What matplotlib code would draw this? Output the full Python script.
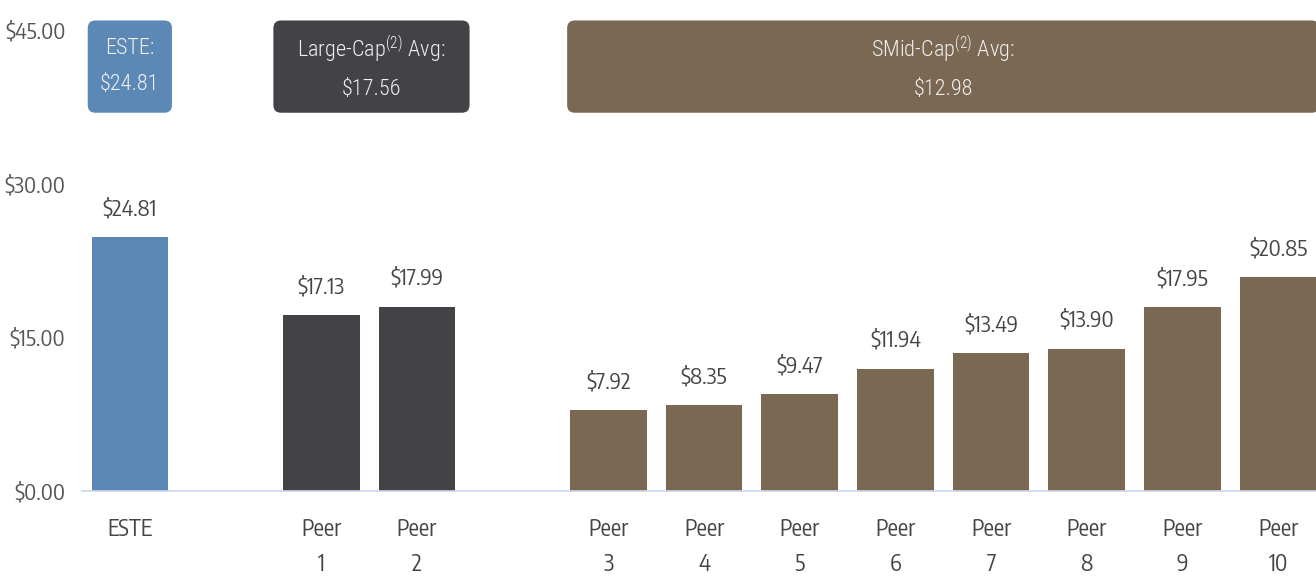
import matplotlib
matplotlib.use("Agg")
import matplotlib.pyplot as plt
from matplotlib.patches import FancyBboxPatch

plt.rcParams['font.family'] = ['Encode Sans Condensed', 'DejaVu Sans']

# data
labels = ['ESTE', 'Peer\n1', 'Peer\n2', 'Peer\n3', 'Peer\n4', 'Peer\n5', 'Peer\n6',
          'Peer\n7', 'Peer\n8', 'Peer\n9', 'Peer\n10']
values = [24.81, 17.13, 17.99, 7.92, 8.35, 9.47, 11.94, 13.49, 13.90, 17.95, 20.85]
groups = ['este', 'large', 'large', 'smid', 'smid', 'smid', 'smid', 'smid', 'smid', 'smid', 'smid']
slots = [0, 2, 3, 5, 6, 7, 8, 9, 10, 11, 12]
yticks = [0, 15, 30, 45]

group_colors = {'este': '#5b88b5', 'large': '#434347', 'smid': '#7a6852'}
# (x0, x1, group, text) of the summary boxes at the top
boxes = [(-0.44, 0.44, 'este', 'ESTE:\n$24.81'),
         (1.5, 3.55, 'large', r'Large-Cap$\mathregular{^{(2)}}$ Avg:' + '\n$17.56'),
         (4.57, 12.43, 'smid', r'SMid-Cap$\mathregular{^{(2)}}$ Avg:' + '\n$12.98')]

fig = plt.figure(figsize=(13.16, 5.77), dpi=100)
ax = fig.add_axes([82 / 1316, 86 / 577, 1244 / 1316, 490 / 577])

cols = [group_colors[g] for g in groups]
bars = ax.bar(slots, values, width=0.8, color=cols, zorder=2)

for s, v in zip(slots, values):
    ax.annotate('${:.2f}'.format(v), (s, v), xytext=(0, 12), textcoords='offset points',
                ha='center', va='bottom', fontsize=16, color='#444444')

for x0, x1, g, txt in boxes:
    y0, y1 = 36.9, 45.9
    ax.add_patch(FancyBboxPatch((x0, y0), x1 - x0, y1 - y0,
                                boxstyle='round,pad=0,rounding_size=0.08',
                                mutation_aspect=9.3, facecolor=group_colors[g],
                                edgecolor='none', clip_on=False, zorder=3))
    ax.text((x0 + x1) / 2, (y0 + y1) / 2, txt, ha='center', va='center',
            fontsize=16, color='#f0f0f0', linespacing=1.9, zorder=4,
            family=['Roboto Condensed', 'DejaVu Sans'], fontweight='light')

ax.set_xlim(-0.5, 12.5)
ax.set_ylim(0, 47.8)
ax.set_yticks(yticks)
ax.set_yticklabels(['${:.2f}'.format(t) for t in yticks], fontsize=16, color='#555555')
ax.set_xticks(slots)
ax.set_xticklabels(labels, fontsize=16.5, color='#444444', linespacing=1.55)
ax.tick_params(axis='both', length=0)
ax.tick_params(axis='x', pad=19)
ax.tick_params(axis='y', pad=12)

for sp in ['top', 'right', 'left']:
    ax.spines[sp].set_visible(False)
ax.spines['bottom'].set_color('#ccd6eb')
ax.spines['bottom'].set_linewidth(1.2)

fig.savefig('out.png', dpi=100, facecolor='white')
